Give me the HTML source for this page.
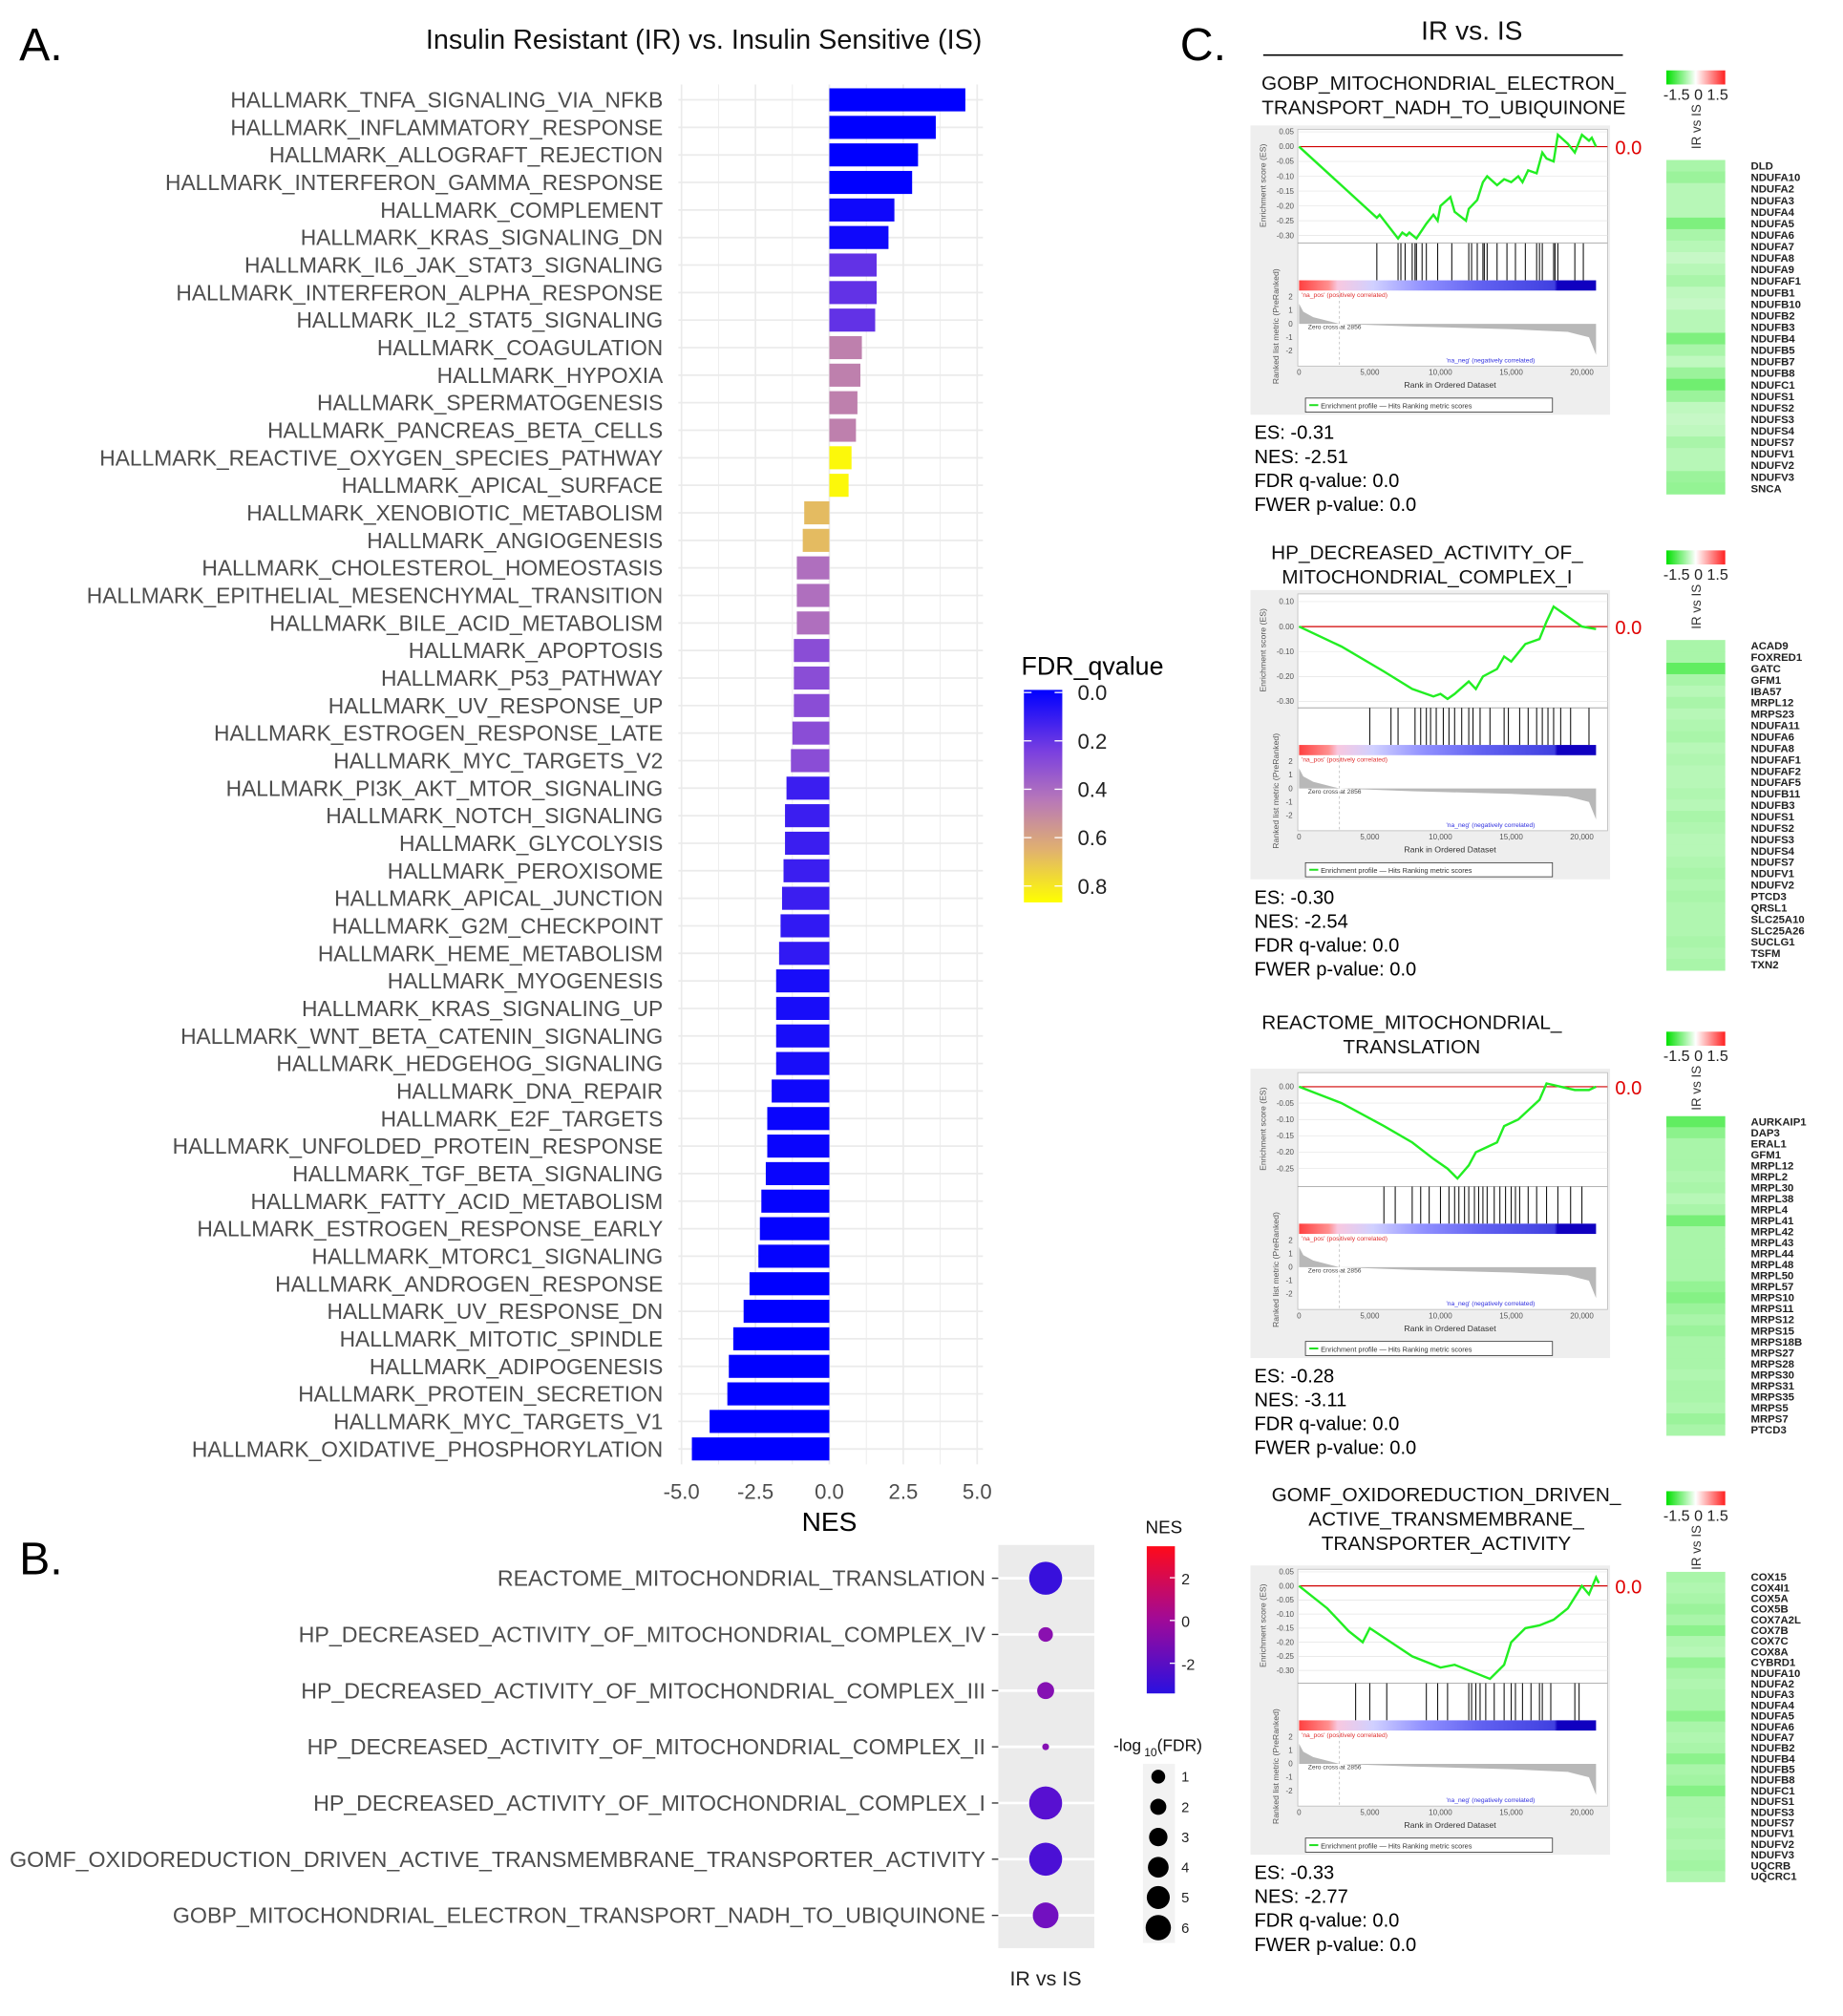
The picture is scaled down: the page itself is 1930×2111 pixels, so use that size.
<!DOCTYPE html>
<html><head><meta charset="utf-8">
<style>
html,body{margin:0;padding:0;background:#fff;}
svg{display:block;font-family:"Liberation Sans",sans-serif;}
</style></head>
<body>
<svg id="fig" width="1930" height="2111" viewBox="0 0 1440 1575" preserveAspectRatio="none" xmlns="http://www.w3.org/2000/svg">
<defs>
<linearGradient id="fdrGrad" x1="0" y1="0" x2="0" y2="1">
<stop offset="0" stop-color="#0000ff"/><stop offset="0.29" stop-color="#7a3fe0"/><stop offset="0.52" stop-color="#b878b8"/><stop offset="0.75" stop-color="#e0b070"/><stop offset="1" stop-color="#ffff00"/>
</linearGradient>
<linearGradient id="nesGrad" x1="0" y1="0" x2="0" y2="1">
<stop offset="0" stop-color="#ff0a1a"/><stop offset="0.5" stop-color="#a00a98"/><stop offset="1" stop-color="#2a10e0"/>
</linearGradient>
<linearGradient id="hmGrad" x1="0" y1="0" x2="1" y2="0">
<stop offset="0" stop-color="#00e000"/><stop offset="0.5" stop-color="#ffffff"/><stop offset="1" stop-color="#ff2020"/>
</linearGradient>
<linearGradient id="rankGrad" x1="0" y1="0" x2="1" y2="0">
<stop offset="0" stop-color="#ff4040"/><stop offset="0.1" stop-color="#ff9090"/><stop offset="0.13" stop-color="#f8c8e0"/><stop offset="0.25" stop-color="#d0d0ff"/><stop offset="0.42" stop-color="#9090ff"/><stop offset="0.62" stop-color="#6060f0"/><stop offset="0.86" stop-color="#4040e0"/><stop offset="0.87" stop-color="#1000c0"/><stop offset="1" stop-color="#1000c0"/>
</linearGradient>
</defs>
<g id="root"></g>
</svg>
<script>
// ---------- Panel A data ----------
const pathways = ["HALLMARK_TNFA_SIGNALING_VIA_NFKB","HALLMARK_INFLAMMATORY_RESPONSE","HALLMARK_ALLOGRAFT_REJECTION","HALLMARK_INTERFERON_GAMMA_RESPONSE","HALLMARK_COMPLEMENT","HALLMARK_KRAS_SIGNALING_DN","HALLMARK_IL6_JAK_STAT3_SIGNALING","HALLMARK_INTERFERON_ALPHA_RESPONSE","HALLMARK_IL2_STAT5_SIGNALING","HALLMARK_COAGULATION","HALLMARK_HYPOXIA","HALLMARK_SPERMATOGENESIS","HALLMARK_PANCREAS_BETA_CELLS","HALLMARK_REACTIVE_OXYGEN_SPECIES_PATHWAY","HALLMARK_APICAL_SURFACE","HALLMARK_XENOBIOTIC_METABOLISM","HALLMARK_ANGIOGENESIS","HALLMARK_CHOLESTEROL_HOMEOSTASIS","HALLMARK_EPITHELIAL_MESENCHYMAL_TRANSITION","HALLMARK_BILE_ACID_METABOLISM","HALLMARK_APOPTOSIS","HALLMARK_P53_PATHWAY","HALLMARK_UV_RESPONSE_UP","HALLMARK_ESTROGEN_RESPONSE_LATE","HALLMARK_MYC_TARGETS_V2","HALLMARK_PI3K_AKT_MTOR_SIGNALING","HALLMARK_NOTCH_SIGNALING","HALLMARK_GLYCOLYSIS","HALLMARK_PEROXISOME","HALLMARK_APICAL_JUNCTION","HALLMARK_G2M_CHECKPOINT","HALLMARK_HEME_METABOLISM","HALLMARK_MYOGENESIS","HALLMARK_KRAS_SIGNALING_UP","HALLMARK_WNT_BETA_CATENIN_SIGNALING","HALLMARK_HEDGEHOG_SIGNALING","HALLMARK_DNA_REPAIR","HALLMARK_E2F_TARGETS","HALLMARK_UNFOLDED_PROTEIN_RESPONSE","HALLMARK_TGF_BETA_SIGNALING","HALLMARK_FATTY_ACID_METABOLISM","HALLMARK_ESTROGEN_RESPONSE_EARLY","HALLMARK_MTORC1_SIGNALING","HALLMARK_ANDROGEN_RESPONSE","HALLMARK_UV_RESPONSE_DN","HALLMARK_MITOTIC_SPINDLE","HALLMARK_ADIPOGENESIS","HALLMARK_PROTEIN_SECRETION","HALLMARK_MYC_TARGETS_V1","HALLMARK_OXIDATIVE_PHOSPHORYLATION"];
const nesValues = [4.6,3.6,3.0,2.8,2.2,2.0,1.6,1.6,1.55,1.1,1.05,0.95,0.9,0.75,0.65,-0.85,-0.9,-1.1,-1.1,-1.1,-1.2,-1.2,-1.2,-1.25,-1.3,-1.45,-1.5,-1.5,-1.55,-1.6,-1.65,-1.7,-1.8,-1.8,-1.8,-1.8,-1.95,-2.1,-2.1,-2.15,-2.3,-2.35,-2.4,-2.7,-2.9,-3.25,-3.4,-3.45,-4.05,-4.65];
const fdrValues = [0,0,0,0,0.03,0.03,0.2,0.2,0.2,0.48,0.48,0.48,0.48,0.85,0.85,0.68,0.68,0.42,0.42,0.42,0.3,0.3,0.3,0.3,0.3,0.12,0.12,0.12,0.12,0.12,0.1,0.1,0.05,0.05,0.05,0.05,0.03,0.02,0.02,0.02,0.01,0.01,0.01,0,0,0,0,0,0,0];
const nesTicks = [-5,-2.5,0,2.5,5];
const fdrTicks = [0,0.2,0.4,0.6,0.8];
// ---------- Panel B data ----------
const bTerms = ["REACTOME_MITOCHONDRIAL_TRANSLATION","HP_DECREASED_ACTIVITY_OF_MITOCHONDRIAL_COMPLEX_IV","HP_DECREASED_ACTIVITY_OF_MITOCHONDRIAL_COMPLEX_III","HP_DECREASED_ACTIVITY_OF_MITOCHONDRIAL_COMPLEX_II","HP_DECREASED_ACTIVITY_OF_MITOCHONDRIAL_COMPLEX_I","GOMF_OXIDOREDUCTION_DRIVEN_ACTIVE_TRANSMEMBRANE_TRANSPORTER_ACTIVITY","GOBP_MITOCHONDRIAL_ELECTRON_TRANSPORT_NADH_TO_UBIQUINONE"];
const bNes = [-3.11,-1.5,-1.6,-1.6,-2.54,-2.77,-2.0];
const bLogFdr = [6,2.2,2.7,0.6,6,6,4.5];
const bNesTicks = [2,0,-2];
const bSizeTicks = [1,2,3,4,5,6];
// ---------- Panel C data ----------
const esCurve1 = [[0,0],[5500,-0.24],[5700,-0.23],[7000,-0.31],[7300,-0.29],[7600,-0.30],[7800,-0.29],[8300,-0.31],[9000,-0.26],[9500,-0.23],[9800,-0.25],[10000,-0.2],[10700,-0.17],[11000,-0.22],[11800,-0.25],[12000,-0.21],[12600,-0.18],[13000,-0.12],[13300,-0.1],[14000,-0.13],[14500,-0.11],[15000,-0.12],[15500,-0.1],[15800,-0.12],[16200,-0.08],[16800,-0.09],[17200,-0.02],[17500,-0.04],[18000,-0.05],[18300,0.04],[19000,0.01],[19500,-0.02],[20000,0.04],[20500,0.02],[20700,0.03],[21000,0]];
const esCurve2 = [[0,0],[3000,-0.08],[6000,-0.18],[8000,-0.25],[9000,-0.27],[9500,-0.28],[10000,-0.27],[10500,-0.29],[11000,-0.27],[12000,-0.22],[12500,-0.25],[13000,-0.2],[14000,-0.17],[14500,-0.12],[15000,-0.14],[16000,-0.07],[17000,-0.05],[17500,0.02],[18000,0.08],[18500,0.06],[19000,0.04],[20000,0],[21000,-0.01]];
const esCurve3 = [[0,0],[3000,-0.05],[6000,-0.12],[8000,-0.17],[9500,-0.22],[10500,-0.25],[11200,-0.28],[12000,-0.24],[12500,-0.2],[13000,-0.19],[14000,-0.17],[14500,-0.12],[15500,-0.1],[16000,-0.08],[17000,-0.04],[17500,0.01],[18500,0.0],[19500,-0.01],[20500,-0.01],[21000,0]];
const esCurve4 = [[0,0],[2000,-0.08],[3500,-0.16],[4500,-0.2],[5000,-0.15],[6500,-0.2],[8000,-0.25],[10000,-0.29],[11000,-0.28],[12500,-0.31],[13500,-0.33],[14500,-0.28],[15000,-0.2],[16000,-0.15],[17000,-0.14],[18000,-0.12],[19000,-0.08],[19500,-0.04],[20000,0],[20500,-0.03],[21000,0.03],[21200,0.01]];
const hits1 = [5500,7000,7200,7500,8000,8200,8300,8700,9000,9800,10800,12000,12200,12600,13000,13100,13300,14000,14700,15300,16000,16800,17000,17200,18000,18100,18300,19500,20100];
const hits2 = [5000,6500,7000,8200,8600,9000,9300,9700,10200,10600,11000,11500,12000,12300,12800,13500,14500,14800,15600,16200,16800,17200,17600,18000,18500,19200,20500];
const hits3 = [6000,6800,8000,8600,9200,10000,10600,11000,11300,11700,12000,12400,12700,13000,13300,13800,14200,14600,15000,15300,15600,16200,16800,17500,18300,19200,20000];
const hits4 = [4000,5000,6200,9000,9800,10500,12000,12200,12500,12800,13200,13800,14500,15000,15300,15800,16400,17000,17200,17800,19500,19800];
const genes1 = ["DLD","NDUFA10","NDUFA2","NDUFA3","NDUFA4","NDUFA5","NDUFA6","NDUFA7","NDUFA8","NDUFA9","NDUFAF1","NDUFB1","NDUFB10","NDUFB2","NDUFB3","NDUFB4","NDUFB5","NDUFB7","NDUFB8","NDUFC1","NDUFS1","NDUFS2","NDUFS3","NDUFS4","NDUFS7","NDUFV1","NDUFV2","NDUFV3","SNCA"];
const genes2 = ["ACAD9","FOXRED1","GATC","GFM1","IBA57","MRPL12","MRPS23","NDUFA11","NDUFA6","NDUFA8","NDUFAF1","NDUFAF2","NDUFAF5","NDUFB11","NDUFB3","NDUFS1","NDUFS2","NDUFS3","NDUFS4","NDUFS7","NDUFV1","NDUFV2","PTCD3","QRSL1","SLC25A10","SLC25A26","SUCLG1","TSFM","TXN2"];
const genes3 = ["AURKAIP1","DAP3","ERAL1","GFM1","MRPL12","MRPL2","MRPL30","MRPL38","MRPL4","MRPL41","MRPL42","MRPL43","MRPL44","MRPL48","MRPL50","MRPL57","MRPS10","MRPS11","MRPS12","MRPS15","MRPS18B","MRPS27","MRPS28","MRPS30","MRPS31","MRPS35","MRPS5","MRPS7","PTCD3"];
const genes4 = ["COX15","COX4I1","COX5A","COX5B","COX7A2L","COX7B","COX7C","COX8A","CYBRD1","NDUFA10","NDUFA2","NDUFA3","NDUFA4","NDUFA5","NDUFA6","NDUFA7","NDUFB2","NDUFB4","NDUFB5","NDUFB8","NDUFC1","NDUFS1","NDUFS3","NDUFS7","NDUFV1","NDUFV2","NDUFV3","UQCRB","UQCRC1"];
const expr1 = [-0.6,-0.7,-0.5,-0.5,-0.5,-0.9,-0.6,-0.5,-0.4,-0.5,-0.6,-0.45,-0.4,-0.5,-0.5,-0.9,-0.6,-0.45,-0.7,-1.0,-0.7,-0.45,-0.4,-0.45,-0.6,-0.5,-0.5,-0.7,-0.75];
const expr2 = [-0.6,-0.6,-1.1,-0.6,-0.5,-0.6,-0.5,-0.55,-0.6,-0.5,-0.55,-0.5,-0.5,-0.55,-0.5,-0.6,-0.55,-0.5,-0.5,-0.55,-0.6,-0.55,-0.6,-0.55,-0.55,-0.55,-0.6,-0.55,-0.6];
const expr3 = [-1.1,-0.8,-0.6,-0.6,-0.6,-0.55,-0.6,-0.5,-0.6,-0.95,-0.6,-0.6,-0.6,-0.6,-0.6,-0.75,-0.85,-0.7,-0.6,-0.7,-0.6,-0.6,-0.6,-0.55,-0.6,-0.6,-0.55,-0.7,-0.6];
const expr4 = [-0.6,-0.55,-0.6,-0.7,-0.6,-0.8,-0.55,-0.5,-0.75,-0.6,-0.55,-0.6,-0.6,-0.8,-0.6,-0.55,-0.6,-0.8,-0.6,-0.65,-0.85,-0.6,-0.6,-0.55,-0.6,-0.55,-0.6,-0.65,-0.55];
const esStats = [["-0.31","-2.51"],["-0.30","-2.54"],["-0.28","-3.11"],["-0.33","-2.77"]];

// ---------- helpers ----------
const NS="http://www.w3.org/2000/svg";
const root=document.getElementById('root');
function mk(tag,attrs,parent,txt){const e=document.createElementNS(NS,tag);for(const k in attrs)e.setAttribute(k,attrs[k]);if(txt!==undefined)e.textContent=txt;(parent||root).appendChild(e);return e;}
function lerpColor(stops,v){
  if(v<=stops[0][0])return stops[0][1];
  for(let i=1;i<stops.length;i++){if(v<=stops[i][0]){const a=stops[i-1],b=stops[i];const t=(v-a[0])/(b[0]-a[0]);return a[1].map((c,j)=>Math.round(c+(b[1][j]-c)*t));}}
  return stops[stops.length-1][1];
}
const rgb=c=>`rgb(${c[0]},${c[1]},${c[2]})`;
const fdrStops=[[0,[0,0,255]],[0.25,[122,63,224]],[0.45,[184,120,184]],[0.65,[224,176,112]],[0.87,[255,255,0]]];
const nesStops=[[-3.4,[40,16,225]],[-2.5,[90,16,208]],[-1.5,[138,16,176]],[0,[160,10,150]],[3.5,[255,10,26]]];

// ---------- Labels / titles ----------
let t;
t=mk('text',{x:15,y:47,'font-size':36,fill:'#000'},root,'A.');
t=mk('text',{x:15,y:1230,'font-size':36,fill:'#000'},root,'B.');
t=mk('text',{x:922,y:47,'font-size':36,fill:'#000'},root,'C.');
t=mk('text',{x:550,y:38,'font-size':21.5,'text-anchor':'middle',fill:'#111'},root,'Insulin Resistant (IR) vs. Insulin Sensitive (IS)');

// ---------- Panel A ----------
const gA=mk('g',{});
const xA=v=>648+v*23.1;
const rowY=i=>78+i*21.51;
const plotTop=66,plotBot=1144;
for(let v=-5;v<=5;v+=1.25){const l=mk('line',{x1:xA(v),x2:xA(v),y1:plotTop,y2:plotBot,stroke:'#ebebeb','stroke-width':(v%2.5===0)?1.3:0.7},gA);}
pathways.forEach((p,i)=>{
  const y=rowY(i);
  const gl=mk('line',{x1:530,x2:768,y1:y,y2:y,stroke:'#ebebeb','stroke-width':1.3},gA);
  const x0=xA(0),x1=xA(nesValues[i]);
  const b=mk('rect',{x:Math.min(x0,x1),y:y-9,width:Math.abs(x1-x0),height:18,fill:rgb(lerpColor(fdrStops,fdrValues[i]))},gA);
  
  
  const lb=mk('text',{x:518,y:y+6,'font-size':17,'text-anchor':'end',fill:'#4d4d4d'},gA,p);
  
  
});
nesTicks.forEach(v=>{const tl=mk('text',{x:xA(v),y:1171,'font-size':16.5,'text-anchor':'middle',fill:'#4d4d4d'},gA,v.toFixed(1));});
t=mk('text',{x:648,y:1196,'font-size':21,'text-anchor':'middle',fill:'#000'},gA,'NES');
// FDR legend
const gL=mk('g',{});
t=mk('text',{x:798,y:527,'font-size':20,fill:'#000'},gL,'FDR_qvalue');
const fy=v=>541+v*189;
t=mk('rect',{x:800,y:539,width:30,height:166,fill:'url(#fdrGrad)'},gL);
fdrTicks.forEach(v=>{
  mk('line',{x1:800,x2:806,y1:fy(v),y2:fy(v),stroke:'#fff','stroke-width':1},gL);
  mk('line',{x1:824,x2:830,y1:fy(v),y2:fy(v),stroke:'#fff','stroke-width':1},gL);
  const tl=mk('text',{x:842,y:fy(v)+6,'font-size':16.5,fill:'#222'},gL,v.toFixed(1));
});

// ---------- Panel B ----------
const gB=mk('g',{});
t=mk('rect',{x:780,y:1207,width:75,height:315,fill:'#ebebeb'},gB);
const bRowY=i=>1233+i*43.9;
bTerms.forEach((term,i)=>{
  const y=bRowY(i);
  mk('line',{x1:780,x2:855,y1:y,y2:y,stroke:'#fff','stroke-width':2},gB);
  mk('line',{x1:775,x2:780,y1:y,y2:y,stroke:'#333','stroke-width':1},gB);
  const lb=mk('text',{x:770,y:y+6,'font-size':17.3,'text-anchor':'end',fill:'#4d4d4d'},gB,term);
  
  
  const d=mk('circle',{cx:817,cy:y,r:1.5+1.9*bLogFdr[i],fill:rgb(lerpColor(nesStops,bNes[i]))},gB);
  
  
});
t=mk('text',{x:817,y:1551,'font-size':16,'text-anchor':'middle',fill:'#222'},gB,'IR vs IS');
t=mk('text',{x:895,y:1198,'font-size':14,fill:'#111'},gB,'NES');
const ny=v=>1266-v*16.7;
t=mk('rect',{x:896,y:1208,width:22,height:115,fill:'url(#nesGrad)'},gB);
bNesTicks.forEach(v=>{mk('line',{x1:914,x2:918,y1:ny(v),y2:ny(v),stroke:'#fff'},gB);const tl=mk('text',{x:923,y:ny(v)+5,'font-size':12,fill:'#222'},gB,String(v));});
t=mk('text',{x:870,y:1368,'font-size':13,fill:'#111'},gB,'-log');
mk('text',{x:894,y:1372,'font-size':9,fill:'#111'},gB,'10');
mk('text',{x:904,y:1368,'font-size':13,fill:'#111'},gB,'(FDR)');
t=mk('rect',{x:893,y:1378,width:25,height:140,fill:'#f2f2f2'},gB);
bSizeTicks.forEach((v,i)=>{const y=1388+i*23.6;const c=mk('circle',{cx:905,cy:y,r:4.5+v*0.9,fill:'#000'},gB);const tl=mk('text',{x:923,y:y+4,'font-size':11,fill:'#222'},gB,String(v));});

// ---------- Panel C ----------
t=mk('text',{x:1150,y:31,'font-size':21,'text-anchor':'middle',fill:'#111'},root,'IR vs. IS');
mk('line',{x1:987,x2:1268,y1:43,y2:43,stroke:'#000','stroke-width':1.2});
const blocks=[
 {dy:0,title:["GOBP_MITOCHONDRIAL_ELECTRON_","TRANSPORT_NADH_TO_UBIQUINONE"],tx:1128,ty:70,curve:esCurve1,hits:hits1,dom:[0.05,103,-0.30,184],esTicks:[0.05,0,-0.05,-0.1,-0.15,-0.2,-0.25,-0.3],hm:125,hmRow:9.0,leg:55,genes:genes1,expr:expr1},
 {dy:363,title:["HP_DECREASED_ACTIVITY_OF_","MITOCHONDRIAL_COMPLEX_I"],tx:1115,ty:437,curve:esCurve2,hits:hits2,dom:[0.1,107,-0.3,185],esTicks:[0.1,0,-0.1,-0.2,-0.3],hm:500,hmRow:8.9,leg:430,genes:genes2,expr:expr2},
 {dy:737,title:["REACTOME_MITOCHONDRIAL_","TRANSLATION"],tx:1103,ty:804,curve:esCurve3,hits:hits3,dom:[0,112,-0.25,176],esTicks:[0,-0.05,-0.1,-0.15,-0.2,-0.25],hm:872,hmRow:8.6,leg:806,genes:genes3,expr:expr3},
 {dy:1125,title:["GOMF_OXIDOREDUCTION_DRIVEN_","ACTIVE_TRANSMEMBRANE_","TRANSPORTER_ACTIVITY"],tx:1130,ty:1173,curve:esCurve4,hits:hits4,dom:[0.05,103,-0.30,180],esTicks:[0.05,0,-0.05,-0.1,-0.15,-0.2,-0.25,-0.3],hm:1228,hmRow:8.35,leg:1165,genes:genes4,expr:expr4}
];
const rx=r=>1015+r*(1236-1015)/20000;
blocks.forEach((B,bi)=>{
  const g=mk('g',{});
  
  
  const d=B.dy;
  B.title.forEach((ln,k)=>{const tl=mk('text',{x:B.tx,y:B.ty+k*19,'font-size':15.5,'text-anchor':'middle',fill:'#111'},g,ln);});
  mk('rect',{x:977,y:98+d,width:281,height:226,fill:'#eeeeee'},g);
  mk('rect',{x:1014,y:101+d,width:242,height:185,fill:'#fff',stroke:'#bbb','stroke-width':0.6},g);
  mk('line',{x1:1014,x2:1256,y1:190+d,y2:190+d,stroke:'#999','stroke-width':0.6},g);
  const [e0,y0,e1,y1]=B.dom;
  const ey=e=>d+y0+(e-e0)*(y1-y0)/(e1-e0);
  B.esTicks.forEach(v=>{mk('line',{x1:1014,x2:1256,y1:ey(v),y2:ey(v),stroke:'#e4e4e4','stroke-width':0.5},g);mk('text',{x:1011,y:ey(v)+2,'font-size':6,'text-anchor':'end',fill:'#555'},g,v.toFixed(2));});
  mk('text',{x:0,y:0,'font-size':6.5,fill:'#555','text-anchor':'middle',transform:`translate(989,${145+d}) rotate(-90)`},g,'Enrichment score (ES)');
  mk('text',{x:0,y:0,'font-size':6.5,fill:'#555','text-anchor':'middle',transform:`translate(999,${255+d}) rotate(-90)`},g,'Ranked list metric (PreRanked)');
  B.hits.forEach(h=>{const l=mk('line',{x1:rx(h),x2:rx(h),y1:190+d,y2:219+d,stroke:'#111','stroke-width':0.8},g);});
  mk('rect',{x:1015,y:219+d,width:rx(21000)-1015,height:8,fill:'url(#rankGrad)'},g);
  mk('text',{x:1017,y:232+d,'font-size':5,fill:'#e03030'},g,"'na_pos' (positively correlated)");
  const mz=253+d, mu=10.5;
  const metric=[[0,1.5],[300,0.9],[1000,0.5],[2856,0],[8000,-0.2],[15000,-0.4],[19000,-0.6],[20500,-1.0],[21000,-2.3]];
  let p=`M${rx(0)},${mz}`;metric.forEach(m=>p+=` L${rx(m[0])},${mz-m[1]*mu}`);p+=` L${rx(21000)},${mz} Z`;
  const ar=mk('path',{d:p,fill:'#b8b8b8'},g);
  mk('line',{x1:rx(2856),x2:rx(2856),y1:227+d,y2:286+d,stroke:'#bbb','stroke-dasharray':'2,2','stroke-width':0.6},g);
  mk('text',{x:1022,y:257+d,'font-size':5,fill:'#444'},g,'Zero cross at 2856');
  mk('text',{x:1130,y:283+d,'font-size':5,fill:'#3030e0'},g,"'na_neg' (negatively correlated)");
  [2,1,0,-1,-2].forEach(v=>mk('text',{x:1010,y:mz-v*mu+2,'font-size':6,'text-anchor':'end',fill:'#555'},g,String(v)));
  [0,5000,10000,15000,20000].forEach(v=>mk('text',{x:rx(v),y:293+d,'font-size':6,'text-anchor':'middle',fill:'#555'},g,v.toLocaleString('en-US')));
  mk('text',{x:1133,y:303+d,'font-size':6.5,'text-anchor':'middle',fill:'#333'},g,'Rank in Ordered Dataset');
  mk('rect',{x:1020,y:311+d,width:193,height:11,fill:'#fff',stroke:'#333','stroke-width':0.6},g);
  mk('line',{x1:1023,x2:1030,y1:316.5+d,y2:316.5+d,stroke:'#20e020','stroke-width':1.5},g);
  mk('text',{x:1032,y:319+d,'font-size':5.5,fill:'#333'},g,'Enrichment profile — Hits        Ranking metric scores');
  mk('line',{x1:1015,x2:1256,y1:ey(0),y2:ey(0),stroke:'#d00000','stroke-width':0.9},g);
  const zl=mk('text',{x:1262,y:ey(0)+6,'font-size':15,fill:'#e00000'},g,'0.0');
  const cp=B.curve.map((c,k)=>(k?'L':'M')+rx(c[0])+','+ey(c[1])).join(' ');
  const cv=mk('path',{d:cp,fill:'none',stroke:'#22ee22','stroke-width':1.8},g);
  
  
  const st=[`ES: ${esStats[bi][0]}`,`NES: ${esStats[bi][1]}`,'FDR q-value: 0.0','FWER p-value: 0.0'];
  st.forEach((s,k)=>{const tl=mk('text',{x:980,y:343+d+k*18.7,'font-size':15,fill:'#000'},g,s);});
  const L=B.leg;
  mk('rect',{x:1302,y:L,width:46,height:11,fill:'url(#hmGrad)'},g);
  mk('text',{x:1325,y:L+23,'font-size':12,'text-anchor':'middle',fill:'#222'},g,'-1.5 0 1.5');
  mk('text',{x:0,y:0,'font-size':10,fill:'#333','text-anchor':'middle',transform:`translate(1329,${L+44}) rotate(-90)`},g,'IR vs IS');
  B.genes.forEach((gn,k)=>{
    const y=B.hm+k*B.hmRow;
    const v=B.expr[k];const tt=Math.min(1,-v/1.5);
    const col=[Math.round(255-(255-40)*tt),Math.round(255-(255-230)*tt),Math.round(255-(255-40)*tt)];
    const c=mk('rect',{x:1302,y:y,width:46,height:B.hmRow+0.3,fill:rgb(col)},g);
    
    
    const tl=mk('text',{x:1368,y:y+B.hmRow-1.5,'font-size':8.5,'font-weight':'bold',fill:'#222'},g,gn);
    
    
  });
});
</script>
</body></html>
